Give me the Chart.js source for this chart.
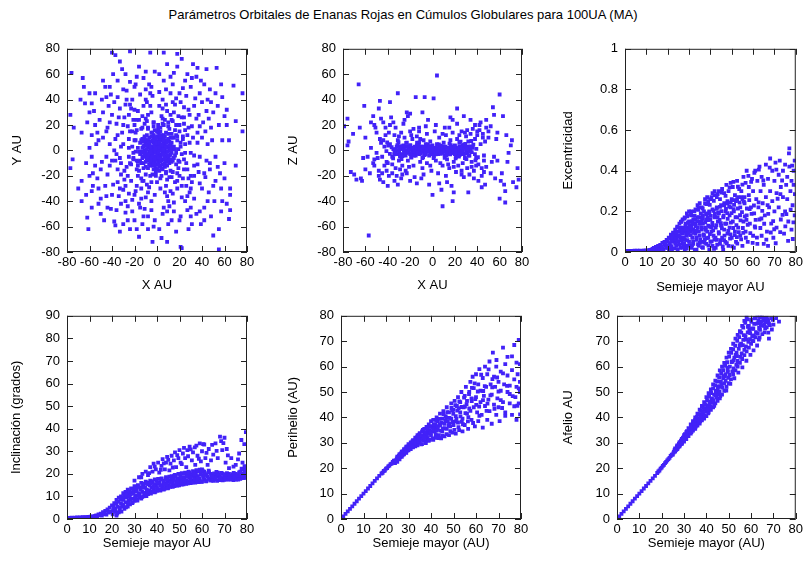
<!DOCTYPE html>
<html><head><meta charset="utf-8">
<script src="https://cdn.jsdelivr.net/npm/chart.js@4.4.1/dist/chart.umd.min.js"></script>
<style>
html,body{margin:0;padding:0;background:#fff;}
body{width:806px;height:565px;position:relative;overflow:hidden;font-family:"Liberation Sans",Arial,Helvetica,sans-serif;}
#title{position:absolute;left:0;top:7px;width:806px;text-align:center;font-size:13px;line-height:16px;color:#000;}
canvas{position:absolute;}
</style></head><body>
<div id="title"></div>
<canvas id="c1"></canvas><canvas id="c2"></canvas><canvas id="c3"></canvas>
<canvas id="c4"></canvas><canvas id="c5"></canvas><canvas id="c6"></canvas>
<script>
const chartTitle = "Parámetros Orbitales de Enanas Rojas en Cúmulos Globulares para 100UA (MA)";
const xLabels = ["X AU","X AU","Semieje mayor AU","Semieje mayor AU","Semieje mayor (AU)","Semieje mayor (AU)"];
const yLabels = ["Y AU","Z AU","Excentricidad","Inclinación (grados)","Perihelio (AU)","Afelio AU"];

// Panel 1: X vs Y
const xyPoints = [
[-76,61],[-77,28],[-74,18],[-77,-14],[-75,-7],[-67,-24],[-67,-40],[-62,-53],[-61,-62],[-66,57],[-65,50],[-64,37],[-58,37],[-67,14],[-40,77],[-37,75],[-33,70],[-24,78],[-6,77],[6,77],[18,76],[18,66],[22,72],[36,65],[44,64],[53,65],[68,51],[76,45],[76,15],[70,23],[62,32],[65,-30],[65,-35],[65,-47],[64,-54],[55,-62],[50,-67],[55,-78],[21,-76],[22,-77],[9,-72],[4,-69],[-4,-72],[-16,-68],[-24,-62],[-33,-64],[-37,-59],[-26,-55],
[-55,20],[-52,8],[-58,-5],[-50,-15],[-48,30],[-45,42],[-42,50],[-35,55],[-28,60],[-18,58],[-10,62],[2,60],[12,58],[25,55],[30,50],[38,45],[45,40],[50,30],[55,20],[58,8],[52,-5],[56,-18],[50,-28],[45,-40],[38,-48],[30,-52],[20,-55],[10,-58],[-2,-55],[-12,-52],[-22,-48],[-32,-42],[-40,-35],[-46,-28],[-52,-30],[-57,-18],[-60,2],[-62,22],[-55,45],[-48,55],[-30,48],[-20,50],[8,48],[20,45],[42,52],[48,18],[60,-10],[58,-40],[42,-55],[28,-62],[-8,-62],[-28,-40],[-44,-45],[-58,-32],[-63,-10],[-50,-50],[40,-30],[62,20],[35,58],[-38,38],[-60,45],[47,-15],[30,-45],[-15,-45],[-35,-25],[-45,15],[-52,-42],[58,42],[15,-48],[-5,50],
[-30,20],[-25,28],[-20,32],[-12,35],[-5,30],[5,33],[15,30],[22,26],[28,18],[32,10],[30,-2],[33,-12],[28,-22],[22,-28],[12,-32],[3,-30],[-8,-33],[-18,-28],[-26,-20],[-32,-10],[-30,5],[-35,12],[-22,15],[-18,-15],[18,-18],[20,15],[25,5],[-25,-5],[-10,25],[10,22],[0,-25],[-3,22],[26,-10],[-28,-28],[14,38],[-14,-38],[35,25],[-35,-15],[38,-5],[-38,0],[5,40],[-5,-40],[24,34],[-24,36],[30,-30],[-20,-35],[16,-25],[-16,24],[36,14],[-34,26],[8,-18],[-8,18],[19,-8],[-19,8],[12,28],[-12,-24],[27,-36],[-27,40],[40,10],[-40,-8],[2,35],[-2,-35],[33,-20],[-33,-30],[21,3],[-21,-2],[10,-40],[-10,40],[42,-18],[-42,22],[17,20],[-17,-20],[29,28],[-29,-16],[6,-45],[-6,45],[45,5],[-45,-5],[15,10],[-15,-8]
];
const xyQuadrants = [
[3,18],[7,24],[11,17],[14,23],[19,27],[24,21],[27,12],[31,19],[9,31],[16,36],[21,38],[26,43],[33,35],[37,28],[41,22],[44,31],[48,38],[52,45],[31,57],[23,49],[12,45],[4,27],[18,11],[23,9],[36,6],[43,15],[49,8],[54,35],[39,55],[14,52],[6,55],[28,32],[34,41],[17,41],[8,36],[20,20],[13,13],[25,16],[38,19],[46,25],[29,6],[11,7],[5,21],[2,46],[27,60],[47,48],[60,27],[64,8],[57,52],[9,68],[32,68],[40,38],[15,61],[24,26],
[-3,19],[-8,28],[-13,18],[-17,31],[-21,24],[-26,19],[-31,14],[-36,21],[-9,38],[-15,44],[-22,40],[-27,47],[-33,33],[-40,28],[-44,18],[-48,10],[-51,24],[-56,31],[-41,44],[-19,52],[-12,57],[-4,43],[-25,9],[-29,26],[-37,9],[-43,35],[-53,14],[-46,50],[-31,64],[-16,66],[-6,35],[-11,11],[-18,16],[-23,33],[-35,42],[-7,52],[-2,62],[-49,40],[-58,12],[-39,60],[-24,54],[-20,8],[-32,3],[-42,5],[-54,5],[-13,27],[-28,36],[-10,48],[-60,30],[-68,40],
[-4,-19],[-9,-27],[-14,-22],[-19,-32],[-23,-24],[-27,-13],[-32,-19],[-37,-8],[-10,-37],[-16,-42],[-22,-39],[-28,-49],[-34,-36],[-39,-27],[-44,-19],[-49,-9],[-53,-22],[-57,-28],[-41,-46],[-20,-55],[-13,-58],[-5,-47],[-24,-10],[-30,-31],[-36,-3],[-45,-36],[-55,-12],[-47,-55],[-30,-58],[-18,-62],[-7,-29],[-12,-14],[-17,-9],[-25,-34],[-36,-47],[-8,-52],[-3,-60],[-50,-38],[-60,-20],[-38,-56],[-26,-44],[-21,-7],[-33,-6],[-42,-12],[-63,-35],[-14,-30],[-29,-23],[-11,-46],[-58,-45],[-70,-30],
[4,-20],[8,-28],[13,-21],[18,-30],[23,-22],[27,-15],[31,-25],[36,-11],[9,-36],[15,-41],[22,-37],[27,-47],[33,-38],[38,-26],[43,-21],[47,-10],[52,-24],[57,-30],[42,-45],[21,-52],[13,-55],[5,-50],[24,-7],[29,-33],[37,-17],[46,-33],[54,-13],[48,-52],[31,-58],[17,-64],[7,-33],[12,-16],[17,-11],[25,-40],[35,-50],[9,-48],[2,-62],[51,-40],[60,-22],[39,-58],[26,-28],[20,-9],[33,-4],[44,-8],[62,-42],[14,-34],[30,-20],[11,-44],[57,-48],[70,-12],
[17,12],[-17,-12],[19,-14],[-19,14],[21,6],[-21,-6],[22,-3],[-22,3],[6,20],[-6,-20],[10,19],[-10,-19],[14,-17],[-14,17],[20,-20],[-20,20],[3,-22],[-3,22],[16,16],[-16,-16],[23,11],[-23,-11],[9,-23],[-9,23],[18,-24],[-18,24],[25,-2],[-25,2],[13,24],[-13,-24],[5,25],[-5,-25],[19,1],[-19,-1],[11,-21],[-11,21],[24,-15],[-24,15],[1,20],[-1,-20]
];
const xyCore = [
[0,0],[2,1],[-2,-1],[4,3],[-4,-3],[1,5],[-1,-5],[5,-2],[-5,2],[3,-6],[-3,6],[7,1],[-7,-1],[6,6],[-6,-6],[8,-5],[-8,5],[2,9],[-2,-9],[9,3],[-9,-3],[0,11],[0,-11],[11,0],[-11,0],[5,10],[-5,-10],[10,-6],[-10,6],[3,-12],[-3,12],[12,5],[-12,-5],[7,-10],[-7,10],[13,-2],[-13,2],[1,-3],[-1,3],[3,2],[-3,-2],[6,-1],[-6,1],[4,-8],[-4,8],[8,8],[-8,-8],[10,2],[-10,-2],[1,14],[-1,-14],[14,-8],[-14,8],[6,12],[-6,-12],[9,-12],[-9,12],[12,10],[-12,-10],[2,-4],[-2,4],[5,4],[-5,-4],[0,7],[0,-7],[4,0],[-4,0],[8,-2],[-8,2],[11,-10],[-11,10],[15,3],[-15,-3],[3,15],[-3,-15],[7,4],[-7,-4],[2,-16],[-2,16],[16,-4],
[1,-8],[-1,9],[6,-7],[-6,7],[9,-9],[3,8],[-9,-6],[12,-3],[-12,3],[4,12],[-4,-12],[7,-13],[10,9],[-10,-9],[13,6],[-13,-6],[2,-13],[5,-15],[-5,14],[8,14],[-8,-14],[14,1],[-14,-1],[0,3],[0,-3],[3,0],[-3,0],[1,1],[-1,-1],[6,3],[-6,-3],[3,-3],[-3,3],
[1.5,2.5],[-2.5,1.5],[4.5,-3.5],[-4.5,-2.5],[2.5,-6.5],[-1.5,6.5],[7.5,2.5],[-7.5,-3.5],[6.5,-5],[-6.5,4],[9.5,-1],[-9.5,1],[3.5,9.5],[-3.5,-9.5],[11.5,-4],[-11.5,4],[8.5,6],[-8.5,-6],[1,-10],[-1,10],[5,7.5],[-5,-7.5],[10.5,-8],[-10.5,8],[13.5,2],[-13.5,-2],[4,-14],[-4,14],[7,11],[-7,-11],[12,-7],[-12,7],[0.5,-5.5],[-0.5,5.5],[5.5,0.5],[-5.5,-0.5],[2,12],[-2,-12],[15,-6],[-15,6],[9,-4],[-9,4],[6,9],[-6,-9],[3,-9],[-3,9],[11,3.5],[-11,-3.5],[8,-8],[-8,8],[0,15],[0,-15],[16,1],[-16,-1],[14,10],[-14,-10],[5,-11],[-5,11],[10,13],[-10,-13],[2,6],[-2,-6],[6,-3],[-6,3],[4,4.5],[-4,-4.5],[1,-1.5],[-1,1.5],[7,-6],[-7,6],[12,1],[-12,-1],[3,11],[-3,-11],[9,7],[-9,-7],[13,-9],[-13,9],[1,17],[-1,-17],[17,-2],[-17,2],[18,8],[-18,-8],[8,-17],[-8,17]
];

// Panel 2: X vs Z
const xzPoints = [
[-66,52],[-61,35],[-76,25],[-79,19],[-75,7],[-76,4],[-70,-19],[-68,-23],[-63,-24],[-57,-67],[-47,39],[-38,38],[-31,45],[-15,42],[-7,42],[1,41],[4,59],[-23,30],[-20,29],[9,-44],[0,-35],[19,-33],[26,-19],[18,-40],[32,-33],[60,44],[54,34],[63,27],[61,-24],[64,-27],[65,-32],[65,-41],[60,-38],[75,-29],[77,-23],[76,-14],[70,4],[68,-2],[44,-29],[-3,-27],[6,-26],[13,-25],[-60,-15],[-55,22],[-52,20],[-48,-20],[-44,-25],[-36,-18],[-28,-22],[-20,-24],[-10,-22],[-12,18],[-4,24],[16,26],[22,33],[34,24],[42,20],[48,24],[52,-18],[56,-22],[72,-25],[58,14],[66,12],[50,10],[46,-8],[40,15],[44,-20],[-58,-5],[-64,-22],[-42,12],[-52,-12],[-46,25],[-38,20],
[-40,-10],[-38,5],[-36,-5],[-34,12],[-33,-14],[-31,8],[-30,-8],[-29,2],[-28,14],[-27,-12],[-26,-3],[-25,10],[-24,-16],[-23,6],[-22,-8],[-21,3],[-20,15],[-19,-5],[-18,9],[-17,-12],[-16,2],[-15,-4],[-14,11],[-13,-2],[-12,6],[-11,-9],[-10,3],[-9,-6],[-8,8],[-7,-3],[-6,5],[-5,-10],[-4,1],[-3,-4],[-2,7],[-1,-2],[0,4],[1,-6],[2,2],[3,-8],[4,5],[5,-3],[6,10],[7,-1],[8,3],[9,-12],[10,6],[11,-4],[12,12],[13,-7],[14,2],[15,-14],[16,8],[17,-2],[18,14],[19,-9],[20,4],[21,-5],[22,9],[23,-12],[24,6],[25,-3],[26,15],[27,-10],[28,3],[29,-6],[30,11],[31,-14],[32,7],[33,-4],[34,13],[35,-9],[36,2],[37,-16],[38,9],[39,-6],[40,12],[41,-11],[42,16],[43,5],[44,-14],[45,10],[46,-4],[47,7],[48,18],[-41,-16],[-43,3],[-45,-18],[-47,9],[-49,-6],[-50,14],[-53,-10],[-55,2],[-42,18],[-39,-20],[-35,22],[-32,-20],[-44,22],[-48,-16]
];
const xzBand = [
[-35,1],[-33,-2],[-32,3],[-30,0],[-28,-3],[-27,2],[-25,-1],[-24,3],[-22,-2],[-21,1],[-20,-3],[-19,2],[-18,0],[-17,-2],[-16,3],[-15,1],[-14,-1],[-13,2],[-12,-3],[-11,0],[-10,2],[-9,-1],[-8,1],[-7,-2],[-6,0],[-5,2],[-4,-1],[-3,1],[-2,-3],[-1,0],[0,1],[1,-1],[2,0],[3,2],[4,-2],[5,1],[6,-1],[7,3],[8,0],[9,-2],[10,1],[11,-1],[12,2],[13,-3],[14,0],[15,2],[16,-1],[17,3],[18,-2],[19,1],[20,-3],[21,2],[22,0],[23,-2],[24,3],[25,1],[26,-1],[27,4],[28,-3],[29,2],[30,0],[31,-2],[32,3],[33,-1],[34,1],[-34,-1],[-31,-3],[-29,1],[-26,4],[-23,0],[-20,4],[-16,-3],[-12,0],[-9,3],[-6,-3],[-3,3],[0,-2],[3,-1],[6,2],[9,3],[12,-1],[15,-2],[18,2],[21,-1],[24,-3],[27,1],[30,3],[-24,-4],[-14,4],[20,1],
[-36.5,2.5],[-34.2,-3.1],[-32.7,0.8],[-31.4,4.2],[-29.8,-1.6],[-28.3,3.4],[-26.9,-4.5],[-25.6,0.3],[-24.1,-2.2],[-22.7,2.8],[-21.3,-0.7],[-19.8,3.9],[-18.5,-2.6],[-17.2,1.2],[-15.9,-0.9],[-14.6,2.3],[-13.1,-1.8],[-11.8,1.5],[-10.4,-2.4],[-9.1,0.6],[-7.7,2.1],[-6.3,-1.2],[-5,0.9],[-3.6,-0.4],[-2.2,1.6],[-0.8,-1.1],[0.6,0.3],[1.9,-2],[3.3,1.1],[4.8,-0.6],[6.2,2.3],[7.5,-2.8],[8.9,1.3],[10.3,-0.3],[11.6,2.9],[13,-1.5],[14.4,0.7],[15.8,-3.2],[17.1,1.9],[18.6,-0.8],[19.9,3.3],[21.4,-2.1],[22.8,1.4],[24.2,-3.6],[25.5,2.6],[26.8,-0.9],[28.2,4.4],[29.6,-2.5],[31,1.8],[32.4,-4.1],[33.7,3.1],[35.1,-1.4],[36.5,4.6],[37.9,-3],[39.2,1.2],[-38.1,-2.7],[-39.6,3.7],[-41.2,-0.5],[-40.5,6.3],[40.6,-5.4],[-35.2,-6.2],[-30.4,6.5],[-27.7,-6.8],[-23.5,5.9],[-18.9,-5.7],[-13.8,6.1],[-8.4,-5.3],[-4.2,4.8],[1.2,-4.6],[5.7,4.7],[10.9,-5.9],[15.2,5.4],[20.7,-6.3],[25.1,6.8],[30.3,-6.9],[34.6,7.4],[38.4,-7.8],[-0.3,2.7],[-16.5,-4.1],[16.3,4.2],[23.6,-4.9],[-29.1,-4.8],[29.2,5.1],[12.5,-3.9],[-12.7,3.8],[-7.1,-3.6],[7.3,3.7],[-20.2,0.5],[20.4,-0.2],[2.8,-3.1],[-2.9,3.3]
];
const xzHalo = [
[-52,-7],[-46,6],[-43,-12],[-39,14],[-36,-11],[-33,18],[-29,-15],[-26,21],[-23,-18],[-19,12],[-16,-21],[-12,15],[-9,-14],[-6,19],[-2,-12],[2,15],[5,-18],[9,13],[12,-20],[15,18],[19,-13],[22,21],[26,-16],[29,14],[33,-19],[36,17],[39,-12],[43,22],[46,-17],[50,15],[53,-9],[-51,18],[-47,-23],[-44,8],[-41,-9],[-37,26],[-34,-24],[-30,11],[-27,-19],[-25,24],[-21,-13],[-17,17],[-14,-26],[-11,9],[-8,-19],[-5,13],[-1,-16],[3,20],[7,-10],[11,18],[14,-11],[18,24],[21,-17],[24,12],[28,-21],[31,16],[35,-13],[38,20],[41,-24],[45,13],[48,-13],[52,19],[55,-5],[57,9],[-56,-18],[-50,-2],[-45,-5],[-60,10],[-62,-6],[-65,18],[-53,27],[-48,33],[-40,-28],[-31,-27],[-22,27],[-9,30],[8,-31],[17,-28],[28,27],[37,-22],[47,-27],[55,28],[62,-18],[58,-8],[67,-9],[71,8],[-73,-17],[-71,13]
];

// Panel 3: semi-major axis vs eccentricity
const aEccPoints = [
[0.5,0.003],[1,0.002],[1.5,0.004],[2,0.003],[2.5,0.005],[3,0.002],[3.5,0.004],[4,0.003],[4.5,0.006],[5,0.004],[5.5,0.003],[6,0.005],[6.5,0.004],[7,0.006],[7.5,0.003],[8,0.005],[8.5,0.004],[9,0.006],[9.5,0.005],[10,0.004],[10.5,0.007],[11,0.006],[11.5,0.008],[12,0.01],[12.5,0.012],[13,0.015],
[0.8,0.004],[1.8,0.003],[2.8,0.004],[3.8,0.005],[4.8,0.003],[5.8,0.006],[6.8,0.004],[7.8,0.005],[8.8,0.006],[9.8,0.007],[10.8,0.006],[11.8,0.009],[12.8,0.012],[13.8,0.016],[14.8,0.01],[15.8,0.024],
[13.5,0.02],[14,0.01],[14.5,0.025],[15,0.015],[15.5,0.03],[16,0.01],[16.5,0.035],[17,0.02],[17.5,0.045],[18,0.01],[18.5,0.05],[19,0.03],[19.5,0.06],[20,0.02],[20.5,0.07],[21,0.04],[21.5,0.085],[22,0.01],[22.5,0.095],[23,0.05],
[23.5,0.11],[24,0.03],[24,0.08],[24.5,0.12],[25,0.05],[25,0.1],[25.5,0.14],[26,0.02],[26,0.07],[26,0.12],[26.5,0.15],[27,0.04],[27,0.09],[27,0.16],[27.5,0.12],[28,0.01],[28,0.06],[28,0.17],[28.5,0.1],[28.5,0.14],[29,0.03],[29,0.08],[29,0.19],[29.5,0.12],[30,0.05],[30,0.15],[30,0.2],[30.5,0.1],[31,0.02],[31,0.13],[31,0.18],[31.5,0.07],[32,0.04],[32,0.11],[32,0.16],[32.5,0.2],[33,0.09],[33,0.14],[33.5,0.01],[33.5,0.06],[34,0.12],[34,0.17],[34.5,0.03],[34.5,0.22],[35,0.08],[35,0.15],[35.5,0.19],[36,0.05],[36,0.11],[36,0.17],[36.5,0.02],[36.5,0.14],[37,0.08],[37,0.2],[37.5,0.12],[37.5,0.24],[38,0.04],[38,0.16],[38.5,0.1],[38.5,0.19],[39,0.07],[39,0.13],[39.5,0.01],[39.5,0.2],[40,0.05],[40,0.16],[40,0.26],[40.5,0.1],[41,0.03],[41,0.13],[41,0.21],[41.5,0.08],[42,0.17],[42,0.28],[42.5,0.02],[42.5,0.12],[43,0.06],[43,0.22],[43.5,0.15],[44,0.09],[44,0.19],[44,0.3],[44.5,0.04],[45,0.13],[45,0.23],[45.5,0.07],[46,0.17],[46,0.01],[46.5,0.11],[46.5,0.24],[47,0.05],[47,0.2],[47.5,0.14],[48,0.09],[48,0.25],[48.5,0.03],[49,0.18],[49,0.12],[49.5,0.22],[50,0.07],[50,0.26],[50.5,0.15],[51,0.02],[51,0.2],[51.5,0.1],[52,0.25],[52,0.05],[52.5,0.17],[53,0.27],[53,0.12],[54,0.08],[54,0.22],[55,0.26],[55,0.03],[55.5,0.15],
[29.5,0.145],[31.5,0.152],[33,0.16],[34.5,0.172],[36.5,0.18],[38,0.185],[39.5,0.196],[41.5,0.203],[43,0.212],[44.5,0.222],[46.5,0.23],[48,0.24],[49.5,0.243],[51,0.255],[52.5,0.26],[54.5,0.27],[56,0.27]
];
const aEccExtra = [
[16.3,0.012],[17.2,0.028],[17.9,0.008],[18.7,0.037],[19.4,0.021],[19.8,0.052],[20.6,0.012],[20.9,0.044],[21.3,0.068],[21.8,0.029],[22.4,0.057],[22.7,0.083],[23.2,0.018],[23.6,0.041],[23.9,0.094],[24.3,0.066],[24.7,0.013],[25.2,0.083],[25.4,0.036],[25.8,0.108],[26.3,0.057],[26.6,0.094],[26.9,0.022],[27.3,0.115],[27.6,0.071],[27.8,0.043],[28.3,0.128],[28.6,0.089],[28.9,0.017],[29.3,0.058],[29.7,0.107],[30.2,0.132],[30.4,0.034],[30.8,0.083],[31.2,0.116],[31.6,0.143],[31.9,0.051],[32.3,0.094],[32.7,0.012],[33.1,0.127],[33.4,0.072],[33.8,0.152],[34.2,0.039],[34.6,0.101],[34.9,0.138],[35.3,0.061],[35.7,0.121],[36.1,0.024],[36.4,0.163],[36.8,0.087],[37.2,0.046],[37.6,0.146],[37.9,0.109],[38.3,0.068],[38.7,0.172],[39.1,0.031],[39.4,0.125],[39.8,0.088],[40.2,0.178],[40.6,0.052],[40.9,0.143],[41.3,0.106],[41.7,0.015],[42.1,0.187],[42.4,0.071],[42.8,0.132],[43.2,0.036],[43.6,0.194],[43.9,0.098],[44.3,0.158],[44.7,0.058],[45.1,0.201],[45.4,0.117],[45.8,0.027],[46.2,0.179],[46.6,0.081],[46.9,0.139],[47.3,0.212],[47.7,0.043],[48.1,0.163],[48.4,0.104],[48.8,0.223],[49.2,0.066],[49.6,0.145],[49.9,0.191],[50.3,0.028],[50.7,0.118],[51.1,0.232],[51.4,0.083],[51.8,0.172],[52.2,0.132],[52.6,0.041],[52.9,0.214],[53.3,0.098],[53.7,0.243],[54.1,0.156],[54.4,0.062],[54.8,0.196],[55.2,0.118],[55.7,0.248],[56.1,0.175],[56.6,0.07],[57.1,0.214],[57.5,0.134],[58.2,0.255],[58.7,0.093],[59.3,0.188],[59.8,0.045],[60.4,0.229],[61.2,0.158],[61.8,0.071],[62.6,0.244],[63.4,0.118],[64.3,0.202],[65.2,0.139],[66.2,0.061],[67.1,0.188],[68.3,0.096],[69.4,0.152],[70.6,0.043],[71.5,0.262],[72.7,0.098],[73.8,0.183],[75.1,0.126],[76.4,0.055],[77.6,0.208],[78.9,0.146],[79.6,0.285],
[17.6,0.018],[19.1,0.042],[20.2,0.03],[21.6,0.052],[22.1,0.072],[23.4,0.064],[24.8,0.052],[25.6,0.077],[26.8,0.105],[27.5,0.028],[28.4,0.112],[29.6,0.089],[30.6,0.122],[31.4,0.031],[32.8,0.137],[33.6,0.104],[35.1,0.045],[35.9,0.152],[37.4,0.062],[38.9,0.157],[40.4,0.121],[41.9,0.061],[43.4,0.172],[44.9,0.142],[46.4,0.058],[47.9,0.191],[49.4,0.087],[50.9,0.211],[52.4,0.073],[53.9,0.181],[55.4,0.094],[56.9,0.158],[58.4,0.211],[60.8,0.126],[63.9,0.165],[66.8,0.231],[69.9,0.112],[72.8,0.285],[75.6,0.186],[78.6,0.064]
];
const aEccUpper = [
[31,0.2],[33,0.21],[35,0.24],[36,0.22],[37.5,0.26],[39,0.25],[40.5,0.27],[42,0.3],[43,0.27],[44.5,0.26],[45.5,0.31],[46.5,0.29],[47.5,0.33],[48.5,0.3],[49.5,0.34],[50.5,0.32],[51.5,0.28],[52.5,0.35],[53.5,0.31],[54.5,0.3],[55.5,0.37],[56.5,0.34],[57,0.4],[58,0.32],[41,0.29],[38.5,0.27],[34,0.23],
[24.5,0.125],[26.2,0.148],[27.9,0.165],[29.2,0.176],[30.9,0.185],[32.6,0.178],[34.3,0.208],[36.4,0.214],[38.1,0.236],[39.7,0.232],[41.6,0.252],[43.4,0.285],[45.2,0.292],[47.1,0.276],[49,0.318],[50.8,0.345],[52.9,0.321],[55,0.332],[57.8,0.375],[59.1,0.345],[60.6,0.39],[62.7,0.405],[64.8,0.352],[67.8,0.415],[70.9,0.405],[73.6,0.352],[76.8,0.485],[78.3,0.425],
[56,0.24],[56.5,0.1],[57,0.18],[57.5,0.05],[58,0.28],[58.5,0.14],[59,0.22],[59.5,0.36],[60,0.08],[60,0.3],[60.5,0.19],[61,0.4],[61,0.12],[61.5,0.26],[62,0.35],[62,0.04],[62.5,0.22],[63,0.42],[63,0.16],[63.5,0.3],[64,0.08],[64,0.37],[64.5,0.24],[65,0.04],[65,0.33],[65.5,0.18],[66,0.43],[66,0.27],[66.5,0.1],[67,0.36],[67,0.03],[67.5,0.22],[68,0.46],[68,0.3],[68.5,0.14],[69,0.4],[69,0.25],[69.5,0.07],[70,0.35],[70,0.2],[70.5,0.44],[71,0.29],[71,0.12],[72,0.38],[72,0.22],[72.5,0.45],[73,0.32],[73,0.16],[74,0.27],[74,0.4],[74.5,0.09],[75,0.43],[75,0.2],[75.5,0.33],[76,0.37],[76,0.26],[76.5,0.15],[77,0.51],[77,0.42],[77.5,0.3],[78,0.11],[78,0.35],[78.5,0.23],[79,0.4],[79,0.33],[79.5,0.45],[79.5,0.18]
];

// Panel 4: semi-major axis vs inclination
const aIncPoints = [
[0.5,0.3],[1,0.5],[1.5,0.4],[2,0.6],[2.5,0.5],[3,0.4],[3.5,0.6],[4,0.5],[4.5,0.7],[5,0.5],[5.5,0.6],[6,0.7],[6.5,0.5],[7,0.8],[7.5,0.6],[8,0.7],[8.5,0.8],[9,0.6],[9.5,0.9],[10,0.8],[10.5,1],[11,0.9],[11.5,1.2],[12,1],[12.5,1.4],[13,1.6],[13.5,1.3],[14,2],[14.5,1.7],[15,2.4],
[15.5,1.5],[16,3],[16.5,2.2],[17,3.6],[17.5,2],[18,4.3],[18.5,2.8],[19,5],[19.5,3.2],[20,6],[20.5,3.8],[21,7],[21.5,4.5],[22,8.5],[22,1.5],[22.5,5.5],[23,9.5],[23,3],
[23.5,4],[24,7],[24,10],[24.5,5.5],[25,8.5],[25,11.5],[25.5,4.5],[26,7.5],[26,12],[26.5,9.5],[27,5.5],[27,13],[27.5,8],[28,11],[28,6.5],[28.5,13.5],[29,9],[29,7],[29.5,12],[30,8],[30,14.5],[30.5,10.5],[31,8.5],[31,13],[31.5,15],[32,9.5],[32,11.5],[32.5,14],[33,9],[33,16],[33.5,12],[34,10],[34,14.5],[34.5,11],[35,16.5],[35,10.5],[35.5,13],[36,11],[36,15.5],[36.5,12.5],[37,11.5],[37,17],[37.5,14],[38,12],[38,16],[38.5,13],[39,11.8],[39,17.5],[39.5,15],[40,12.5],[40,14],[40.5,17.8],[41,13],[41,16],[41.5,12.6],[42,15],[42,18],[42.5,13.5],[43,17],[43,13],[43.5,15.5],[44,14],[44,18.5],[44.5,16.5],[45,13.8],[45,15],[45.5,18.8],[46,14.5],[46,17],[46.5,19],[47,14.2],[47,16],[47.5,18],[48,15],[48,19.5],[48.5,16.5],[49,14.8],[49,18],[49.5,20],[50,15.5],[50,17],[50.5,19],[51,15.2],[51,20.3],[51.5,17.5],[52,16],[52,18.5],[52.5,20.5],[53,15.6],[53,17.2],[53.5,19.6],[54,16.4],[54,21],[54.5,18.2],[55,15.9],[55,19.8],[55.5,17],[56,21.2],[56,16.5],[56.5,18.8],[57,16.1],[57,20.2],[57.5,21.6],[58,17.5],[58,19],[58.5,16.3],[59,21.8],[59,18],[59.5,20.5],[60,16.6],[60,22],[60.5,19.2],[61,17.5],[61,21],[62,16.8],[62,19.6],[63,18],[63,21.4],[64,17],[64,20],[65,18.4],[65,16.9],[66,19.5],[66,17.6],[67,18.8],[67,20.5],[68,17.2],[68,19],[69,18],[69,20.2],[70,17.3],[70,18.8],[71,19.5],[71,17.6],[72,18.3],[72,20],[73,17.5],[73,19],[74,18],[74,17.2],[75,18.6],[75,20],[76,18.2],[76,19.4],[77,17.8],[77,21],[78,18.5],[78,20.2],[78.5,22],[79,19],[79,21.5],[79.5,20],[79.5,18.3]
];
const aIncExtra = [
[20.3,2.1],[20.8,5.3],[21.4,3.2],[21.9,6.9],[22.3,2.4],[22.8,7.6],[23.3,5.1],[23.7,8.8],[24.2,3.3],[24.6,9.6],[25.1,6.3],[25.7,10.3],[26.2,5.2],[26.7,11.4],[27.1,7.1],[27.6,12.1],[28.2,8.6],[28.7,11.9],[29.2,7.4],[29.7,13.2],[30.3,9.4],[30.8,12.3],[31.3,8.2],[31.8,14.4],[32.3,10.7],[32.8,13.1],[33.3,9.7],[33.8,15.3],[34.3,11.6],[34.8,13.8],[35.3,10.2],[35.8,16.1],[36.3,12.3],[36.8,14.9],[37.3,11.3],[37.8,16.8],[38.3,13.6],[38.8,15.4],[39.3,12.1],[39.8,17.1],[40.3,13.1],[40.8,15.6],[41.3,12.9],[41.8,17.6],[42.3,14.3],[42.8,16.4],[43.3,13.4],[43.8,17.9],[44.3,15.2],[44.8,13.6],[45.3,16.9],[45.8,14.2],[46.3,18.6],[46.8,15.4],[47.3,17.3],[47.8,14.6],[48.3,19.1],[48.8,15.9],[49.3,17.6],[49.8,14.9],[50.3,19.6],[50.8,16.2],[51.3,18.1],[51.8,15.3],[52.3,20.1],[52.8,16.8],[53.3,18.8],[53.8,15.8],[54.3,20.6],[54.8,17.4],[55.3,19.2],[55.8,16.1],[56.3,20.7],[56.8,17.6],[57.3,19.5],[57.8,16.4],[58.3,21.2],[58.8,17.8],[59.3,19.7],[59.8,16.5],[60.3,21.4],[60.8,18.2],[61.3,20.3],[61.8,16.7],[62.5,18.9],[63.1,20.8],[63.6,17.3],[64.2,19.1],[64.8,17.6],[65.4,20.2],[66.1,18.3],[66.7,16.9],[67.3,19.6],[67.9,17.9],[68.5,20.4],[69.2,17.1],[69.8,19.4],[70.4,18.1],[71.1,20.3],[71.7,17.4],[72.4,19.2],[73.1,17.9],[73.7,19.9],[74.4,18.6],[75.1,17.5],[75.8,19.1],[76.5,20.6],[77.2,18.9],[77.9,19.8],[78.6,18.1],[79.2,20.9],[79.7,22.8],[78.9,23.4],[77.6,22.3],
[24.9,9.1],[26.4,10.8],[27.9,9.8],[29.4,11.1],[30.6,13.6],[31.9,10.4],[33.6,13.9],[34.6,15.6],[35.6,12.1],[37.1,15.8],[38.6,14.3],[40.1,16.2],[41.6,14.7],[43.1,15.2],[44.6,17.6],[46.1,16.1],[47.6,19.2],[49.1,16.4],[50.6,18.2],[52.1,17.1],[53.6,20.4],[55.1,18.3],[56.6,19.8],[58.1,18.1],[59.6,21.1],[61.1,19.7],[62.8,17.9],[64.5,18.7],[66.4,20.9],[68.2,18.3],[70.1,19.9],[72.1,18.6],[74.1,20.4],[76.1,17.4],[78.1,19.1]
];
const aIncUpper = [
[30,17],[32,18.5],[33.5,20],[35,21],[36,19.5],[37,23],[38,21],[38.5,24.5],[39.5,22],[40.5,25],[41,20.5],[42,23.5],[42.5,26.5],[43.5,22],[44,25],[44.5,27.5],[45.5,21.5],[46,24.5],[46.5,28],[47.5,26],[48,29.5],[48.5,23],[49.5,27],[50,30.5],[50.5,25],[51.5,29],[52,31.5],[52.5,27],[53,23],[53.5,30.5],[54.5,32],[55.5,26],[56,29.5],[57,24],[57.5,32.5],[58,28],[59,33.5],[59.5,25.5],[60,30],[61,33],[61.5,27],[62.5,24],[63,31],[64,26],[65,28.5],[66,33.5],[67,27],[68,36.5],[68.5,34.5],[69,30.5],[70,36],[70.5,25],[71,31],[72,22.5],[73,27],[75,24],[76.5,29],[77.5,35],[78,25],[79.5,38.5],
[33,18.5],[36.5,20.3],[39,23.2],[41.7,21.8],[43,24.6],[45,26.2],[47,22.8],[49,28.3],[51,24.3],[53.8,27.8],[55,30.8],[56.8,31.7],[58.6,26.7],[60.5,33.2],[62,29.3],[64.5,32.8],[66.5,30.2],[69.5,33.6],[71.5,28.2],[74,23.2],[76,26.4],[78.8,33.2]
];

// Panel 5: semi-major axis vs perihelion
const aPeriPoints = [
[0.5,0.5],[1,1],[2,2],[3,3],[4,4],[5,5],[6,6],[7,7],[8,8],[9,9],[10,10],[11,11],[12,12],[13,13],[14,14],[15,15],[16,16],[17,17],[18,17.9],[19,18.9],[20,19.8],[21,20.7],[22,21.6],[23,22.5],[18.5,18.2],[19.5,19.1],[20.5,20],[21.5,21],[22.5,21.8],[23.5,23],
[24,23],[24,22],[25,24.5],[25,22.5],[26,25.5],[26,23.5],[27,26.5],[27,24.5],[27.5,25.5],[28,27.5],[28,25.5],[28.5,26.5],[29,28.5],[29,26],[29.5,27.5],[30,29.5],[30,27],[30.5,28.2],[31,30.2],[31,27.5],[31.5,29],[32,31],[32,28.2],[32.5,30],[33,32],[33,28.6],[33.5,30.5],[34,33],[34,29],[34.5,31.5],[35,33.8],[35,30],[35.5,32.2],[36,34.5],[36,29.5],[36.5,31],[37,35.5],[37,33],[37.5,30.5],[38,36.3],[38,34],[38.5,31.8],[39,37.2],[39,30.8],[39.5,35],[40,38.5],[40,33],[40.5,36],[41,31.2],[41,39],[41.5,34.5],[42,37],[42,32],[42.5,40],[43,35.5],[43,38.5],[43.5,33],[44,41.5],[44,36.8],[44.5,31.8],[45,39.5],[45,34.5],[45.5,42.5],[46,37.5],[46,32.5],[46.5,40.5],[47,35.5],[47,44],[47.5,38.5],[48,33],[48,42],[48.5,36.5],[49,45.5],[49,39.5],[49.5,34],[50,43],[50,37],[50.5,46.5],[51,40.5],[51,33.6],[51.5,44.5],[52,38],[52,48],[52.5,35],[53,42],[53,46],[53.5,50],[54,39.5],[54,34.5],[54.5,44],[55,48.5],[55,37],[55.5,52],[56,41.5],[56,46.5],[56.5,35.5],[57,50],[57,43.5],[57.5,54],[58,39],[58,47.5],
[58.5,56],[59,44],[59,51.5],[59.5,36.5],[60,57],[60,48],[60.5,42],[61,53],[61,38.5],[61.5,59],[62,46],[62,50.5],[62.5,41],[63,55.5],[63,36],[63.5,48.5],[64,60],[64,44.5],[64.5,52],[65,39],[65,57],[65.5,47],[66,62],[66,42.5],[66.5,53],[67,49],[67,37.5],[67.5,65.5],[68,45],[68,56],[68.5,52],[69,41],[69,60],[69.5,47.5],[70,44],[70,54],[70.5,38.5],[71,50.5],[71,58],[72,67.5],[72,46],[72.5,53],[73,61],[73,42],[74,50],[74,56.5],[75,45.5],[75,52.5],[76,64],[76,41],[77,68.5],[77,55],[77.5,48],[78,39],[78,52],[78.5,57],[79,70.5],[79,45.5],[79.5,61],[79.5,50],[79.5,54]
];
const aPeriExtra = [
[24.4,23.1],[24.8,23.9],[25.3,23.6],[25.7,24.9],[26.2,24.4],[26.6,25.8],[27.1,25.2],[27.4,26.6],[27.8,25.9],[28.3,26.9],[28.7,27.8],[29.2,26.8],[29.6,28.6],[30.1,28.1],[30.4,27.6],[30.9,29.4],[31.3,28.6],[31.7,30.5],[32.2,29.4],[32.6,28.9],[33.1,31.2],[33.4,29.8],[33.9,32.3],[34.3,30.6],[34.7,33.2],[35.2,31.4],[35.6,29.4],[36.1,32.8],[36.4,35.1],[36.9,31.6],[37.3,34.2],[37.7,29.9],[38.2,32.7],[38.6,35.4],[39.1,33.6],[39.4,31.2],[39.8,36.6],[40.3,34.4],[40.7,31.7],[41.2,37.3],[41.6,35.6],[42.1,33.4],[42.4,38.6],[42.9,36.6],[43.3,31.9],[43.8,39.4],[44.2,34.8],[44.6,37.9],[45.1,32.8],[45.6,41.3],[46,35.8],[46.4,38.7],[46.9,33.4],[47.3,42.1],[47.8,36.9],[48.2,39.8],[48.6,34.6],[49.1,43.7],[49.5,38.2],[49.9,41.4],[50.4,35.1],[50.8,44.8],[51.3,39.4],[51.7,42.7],[52.2,36.2],[52.6,46.3],[53.1,40.4],[53.6,44.1],[54.2,37.3],[54.7,47.8],[55.3,41.7],[55.8,45.2],[56.4,38.4],[56.9,49.2],[57.5,42.6],[58.1,46.4],[58.7,37.8],[59.4,53.4],[60.1,44.9],[60.8,50.2],[61.5,40.6],[62.3,56.8],[63.1,46.8],[63.9,52.3],[64.7,42.6],[65.6,58.9],[66.4,48.7],[67.3,55.1],[68.2,43.4],[69.1,62.6],[70,50.2],[71,46.8],[72,57.3],[73,40.6],[74,63.8],[75,49.2],[76,58.6],[77,44.4],[78,61.6],[79,51.4],[79.6,41.2],
[25.9,24.2],[27.3,25.1],[28.8,26.2],[30.2,27.9],[31.6,28.4],[32.9,30.1],[34.4,31.9],[35.8,32.9],[37.1,32.1],[38.4,35.9],[39.7,33.9],[41.1,35.2],[42.6,34.9],[43.9,37.2],[45.3,35.6],[46.7,39.9],[48.1,37.4],[49.4,42.8],[50.9,38.4],[52.3,43.6],[53.7,38.3],[55.1,44.3],[56.6,40.1],[58.2,51.6],[59.7,47.2],[61.4,44.3],[63.2,50.4],[65.1,45.4],[67.2,51.8],[69.4,55.7],[71.6,43.7],[73.8,52.4],[76.3,48.4],[78.4,44.6]
];

// Panel 6: semi-major axis vs aphelion
const aAphPoints = [
[0.5,0.5],[1,1],[2,2],[3,3],[4,4],[5,5],[6,6],[7,7],[8,8],[9,9],[10,10],[11,11],[12,12],[13,13],[14,14],[15,15],[16,16],[17,17],[18,18.1],[19,19.1],[20,20.2],[21,21.3],[22,22.5],[23,23.6],[24,24.8],[18.5,18.7],[19.5,19.8],[20.5,20.9],[21.5,22],[22.5,23.1],[23.5,24.1],[24.5,25.3],
[25,25.4],[25.5,26.5],[26,26.5],[26,27.8],[26.5,27.2],[27,27.5],[27,29],[27.5,28.4],[28,28.6],[28,30.3],[28.5,29.5],[29,29.6],[29,31.5],[29.5,30.8],[30,30.5],[30,33],[30.5,31.7],[31,31.5],[31,34.2],[31.5,32.8],[32,32.6],[32,35.8],[32.5,34],[33,33.6],[33,37.2],[33.5,35.5],[34,34.8],[34,38.5],[34.5,36.6],[35,35.5],[35,40],[35.5,38],[36,36.8],[36,41.5],[36.5,39.2],[37,37.6],[37,43],[37.5,40.5],[38,38.8],[38,44.5],[38.5,41.5],[39,39.5],[39,46],[39.5,43],[40,40.5],[40,48],[40.5,44.5],[41,42],[41,49.5],[41.5,46],[42,43],[42,51],[42.5,47.5],[43,44],[43,53],[43.5,49],[44,45.5],[44,54.5],[44.5,50.5],[45,46.5],[45,56.5],[45.5,52],[46,47.5],[46,58.5],[46.5,54],[47,49],[47,60],[47.5,55.5],[48,50.5],[48,61.5],[48.5,57],[49,52],[49,63.5],[49.5,58.5],[50,53.5],[50,65.5],[50.5,60],[51,55],[51,67],[51.5,62],[52,57],[52,69],[52.5,63.5],[53,58.5],[53,71],[53.5,65.5],[54,60],[54,72.5],[54.5,67],[55,61.5],[55,74],[55.5,69],[56,63],[56,76],[56.5,70.5],[57,64.5],[57,78],[57.5,72],[58,66],[58,79.5],[58.5,73.5],[59,67.5],[59,76],[60,69],[60,78.5],[60.5,72],[61,70],[61,75],[62,71.5],[62,79],[63,73],[63,77],[64,74.5],[64,79.5],[65,76],[66,73.5],[66,78],[67,75.5],[68,77],[68,71],[69,79],[70,76.5],[72.5,77.7],
[30.2,31.9],[32.3,34.5],[33.8,36.2],[36.2,39.4],[37.8,41.1],[40.3,44.6],[41.8,46.2],[44.2,50],[45.7,52.3],[48.3,56.1],[49.6,57.9],[52.2,62.4],[53.7,64.1],[56.3,68.4],[57.8,70.6],[59.6,73.2],[61.4,76.8],[63.6,75.2],[65.5,79.2],[67.4,78.6]
];
const aAphExtra = [
[25.3,26.1],[25.8,27.2],[26.3,27.4],[26.8,28.6],[27.2,28.1],[27.7,29.7],[28.2,29.2],[28.6,30.8],[29.1,30.1],[29.5,31.9],[30,31.3],[30.4,33.4],[30.9,32.2],[31.3,34.6],[31.8,33.1],[32.2,35.4],[32.7,33.8],[33.1,36.4],[33.6,34.9],[34,37.6],[34.5,35.7],[34.9,38.9],[35.4,36.8],[35.8,40.2],[36.3,37.9],[36.7,41.3],[37.2,38.4],[37.6,42.6],[38.1,39.6],[38.5,44.1],[39,40.9],[39.4,45.2],[39.9,42.4],[40.3,46.8],[40.8,41.6],[41.2,48.2],[41.7,44.3],[42.1,49.6],[42.6,45.8],[43,51.4],[43.5,44.6],[43.9,52.6],[44.4,47.9],[44.8,54.1],[45.3,49.2],[45.7,55.7],[46.2,48.4],[46.6,57.2],[47.1,51.7],[47.5,58.6],[48,53.4],[48.4,60.3],[48.9,50.6],[49.3,61.7],[49.8,55.6],[50.2,63.9],[50.7,53.2],[51.1,65.4],[51.6,58.1],[52,66.8],[52.5,55.4],[52.9,68.2],[53.4,60.7],[53.8,70.1],[54.3,57.6],[54.7,71.6],[55.2,63.8],[55.6,73.4],[56.1,59.7],[56.5,75.4],[57,66.6],[57.4,77.2],[57.9,62.3],[58.3,78.6],[58.8,69.7],[59.2,74.4],[59.7,64.6],[60.1,77.6],[60.6,70.3],[61.1,66.4],[61.6,79.1],[62.2,73.6],[62.7,68.3],[63.3,78.2],[63.8,71.4],[64.4,76.7],[65,72.8],[65.6,78.9],[66.3,75.1],[67,79.3],[67.7,73.4],[68.4,76.3],[69.3,74.6],[62.8,80],[64.9,79.9],[66.6,77.5],
[26.1,27],[27.4,28.9],[28.9,29.8],[29.8,32.2],[31.1,32.9],[32.9,35.1],[33.3,34.2],[34.7,37.1],[35.1,36.2],[36.6,38.6],[37.4,40.1],[38.3,42.3],[39.2,43.4],[40.6,43.2],[41.4,45.3],[42.3,47.2],[43.2,46.7],[44.1,48.8],[45.1,51.3],[45.9,50.1],[46.8,52.9],[47.7,56.2],[48.6,54.4],[49.5,59.6],[50.4,56.7],[51.3,61.8],[52.2,59.3],[53.1,64.6],[54,62.2],[54.9,68.4],[55.8,65.2],[56.8,72.4],[57.7,67.9],[58.6,75.7],[59.5,70.8],[60.4,74.9],[61.3,72.3],[62.4,76.9],[63.5,70.6],[64.6,77.8],[66,76.4],[67.6,77.9],[69.8,78.4],[71.2,79.1]
];

const FONT = "'Liberation Sans', Arial, Helvetica, sans-serif";
const MARK = '#4222f8';
const FS = 13;
const LH = FS * 1.2;

document.getElementById('title').textContent = chartTitle;

const innerTicks = {
  id: 'innerTicks',
  afterDraw(chart) {
    const {ctx, chartArea: a, scales} = chart;
    ctx.save();
    ctx.strokeStyle = '#222';
    ctx.lineWidth = 1;
    ctx.beginPath();
    scales.x.ticks.forEach(t => {
      const p = Math.round(scales.x.getPixelForValue(t.value)) + 0.5;
      ctx.moveTo(p, a.bottom); ctx.lineTo(p, a.bottom - 6);
      ctx.moveTo(p, a.top); ctx.lineTo(p, a.top + 6);
    });
    scales.y.ticks.forEach(t => {
      const p = Math.round(scales.y.getPixelForValue(t.value)) + 0.5;
      ctx.moveTo(a.left, p); ctx.lineTo(a.left + 6, p);
      ctx.moveTo(a.right, p); ctx.lineTo(a.right - 6, p);
    });
    ctx.stroke();
    ctx.strokeRect(a.left + 0.5, a.top + 0.5, a.right - a.left - 1, a.bottom - a.top - 1);
    ctx.restore();
  }
};

function fmtTick(v) { return String(Math.round(v * 100) / 100); }

function panel(id, rect, yTitleX, xTitleY, pts, xr, yr, xLabel, yLabel) {
  const [L, T, R, B] = rect;
  const cl = Math.round(yTitleX - LH / 2);
  const ct = T - 10;
  const cr = Math.min(806, R + 12);
  const cb = Math.round(xTitleY + LH / 2);
  const cv = document.getElementById(id);
  cv.style.left = cl + 'px';
  cv.style.top = ct + 'px';
  cv.width = cr - cl;
  cv.height = cb - ct;
  const tickFont = {family: FONT, size: FS};
  new Chart(cv, {
    type: 'scatter',
    data: {datasets: [{
      data: pts.map(p => ({x: p[0], y: p[1]})),
      pointStyle: 'rect', pointRadius: 2.7, pointHoverRadius: 2.7,
      backgroundColor: MARK, borderWidth: 0
    }]},
    options: {
      responsive: false, animation: false, devicePixelRatio: 1, events: [],
      layout: {padding: {left: 0, top: 10, right: cr - R, bottom: 0}},
      plugins: {legend: {display: false}, tooltip: {enabled: false}},
      scales: {
        x: {
          type: 'linear', min: xr[0], max: xr[1],
          grid: {display: false, drawTicks: false}, border: {display: false},
          ticks: {stepSize: xr[2], autoSkip: false, maxRotation: 0, padding: 3, color: '#000', font: tickFont, callback: fmtTick},
          title: {display: true, text: xLabel, color: '#000', font: tickFont, padding: 0},
          afterFit(s) { s.height = cb - B; }
        },
        y: {
          type: 'linear', min: yr[0], max: yr[1],
          grid: {display: false, drawTicks: false}, border: {display: false},
          ticks: {stepSize: yr[2], autoSkip: false, padding: 7, color: '#000', font: tickFont, callback: fmtTick},
          title: {display: true, text: yLabel, color: '#000', font: tickFont, padding: 0},
          afterFit(s) { s.width = L - cl; }
        }
      }
    },
    plugins: [innerTicks]
  });
}

panel('c1', [67, 44, 247, 252], 18, 285, xyPoints.concat(xyQuadrants, xyCore), [-80, 80, 20], [-80, 80, 20], xLabels[0], yLabels[0]);
panel('c2', [343, 44, 522, 252], 294, 285, xzPoints.concat(xzHalo, xzBand), [-80, 80, 20], [-80, 80, 20], xLabels[1], yLabels[1]);
panel('c3', [625, 44, 797, 252], 569, 287, aEccPoints.concat(aEccExtra, aEccUpper), [0, 80, 10], [0, 1, 0.2], xLabels[2], yLabels[2]);
panel('c4', [67, 311, 247, 519], 17, 543, aIncPoints.concat(aIncExtra, aIncUpper), [0, 80, 10], [0, 90, 10], xLabels[3], yLabels[3]);
panel('c5', [341, 311, 521, 519], 294, 543, aPeriPoints.concat(aPeriExtra), [0, 80, 10], [0, 80, 10], xLabels[4], yLabels[4]);
panel('c6', [617, 311, 796, 519], 569, 543, aAphPoints.concat(aAphExtra), [0, 80, 10], [0, 80, 10], xLabels[5], yLabels[5]);
</script>
</body></html>
